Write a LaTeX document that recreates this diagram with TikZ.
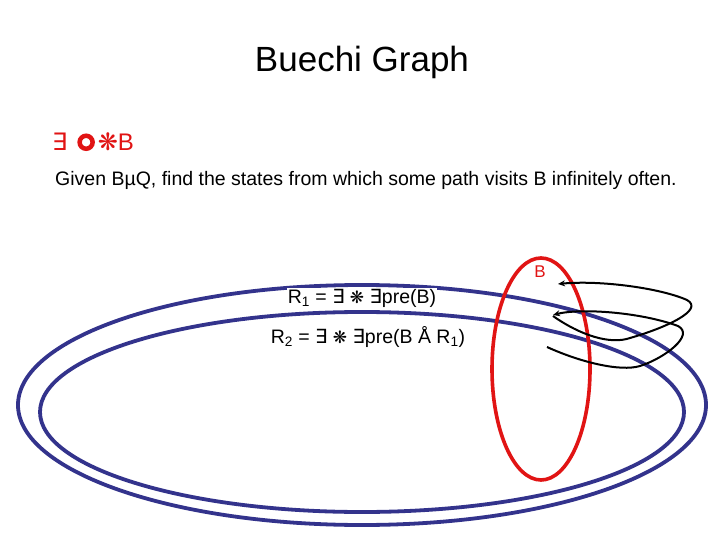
\documentclass[tikz,border=0pt]{standalone}
\usepackage{fontspec}
\setmainfont{Liberation Sans}
\newfontfamily\symf{DejaVu Sans}
\usetikzlibrary{arrows.meta}
\begin{document}
\begin{tikzpicture}[x=1bp,y=-1bp,
  txt/.style={inner sep=0pt, font=\fontsize{19.5bp}{23bp}\selectfont}]
\definecolor{navy}{RGB}{51,51,140}
\definecolor{rd}{RGB}{225,20,20}
\useasboundingbox[fill=white] (0,0) rectangle (720,540);
\node[inner sep=0pt, font=\fontsize{35bp}{40bp}\selectfont] (title) at (362,62) {Buechi Graph};
\node[txt, anchor=west, text=rd, font=\fontsize{24bp}{28bp}\selectfont] (formula) at (52,142) {{\symf ∃}\hspace{10bp}\tikz[baseline=-0.5bp]\draw[rd, line width=4.5bp] (0,8bp) circle[radius=6.5bp];\hspace{3bp}{\symf\fontsize{24bp}{26bp}\selectfont\raisebox{0bp}{❋}}B};
\node[txt, anchor=west] (given) at (55,180) {Given BµQ, find the states from which some path visits B infinitely often.};
\draw[draw=navy, line width=3.8bp] (362,405) ellipse [x radius=344, y radius=120];
\draw[draw=navy, line width=3.8bp] (362,412) ellipse [x radius=322, y radius=100];
\draw[draw=rd, line width=3.6bp] (541,369) ellipse [x radius=49, y radius=111];
\node[txt, text=rd, font=\fontsize{17bp}{20bp}\selectfont] (B) at (540,272) {B};
\node[txt, fill=white, inner sep=1pt] (R1) at (362,298) {R\textsubscript{1} = {\symf ∃} {\symf\fontsize{17bp}{20bp}\selectfont ❋} {\symf ∃}pre(B)};
\node[txt, fill=white, inner sep=1pt] (R2) at (368,337) {R\textsubscript{2} = {\symf ∃} {\symf\fontsize{17bp}{20bp}\selectfont ❋} {\symf ∃}pre(B Å R\textsubscript{1})};
\coordinate (t1) at (558,284);
\coordinate (t2) at (553,315);
\coordinate (s1) at (553,316);
\coordinate (s2) at (547,347);
\draw[line width=2bp, -{Stealth[length=7bp,width=6bp]}] (s1) .. controls (580,335) and (610,345) .. (630,338)
  .. controls (665,328) and (705,310) .. (687,300) .. controls (660,288) and (600,280) .. (t1);
\draw[line width=2bp, -{Stealth[length=7bp,width=6bp]}] (s2) .. controls (580,362) and (620,372) .. (640,366)
  .. controls (665,358) and (695,335) .. (678,326) .. controls (640,312) and (580,308) .. (t2);
\end{tikzpicture}
\end{document}
